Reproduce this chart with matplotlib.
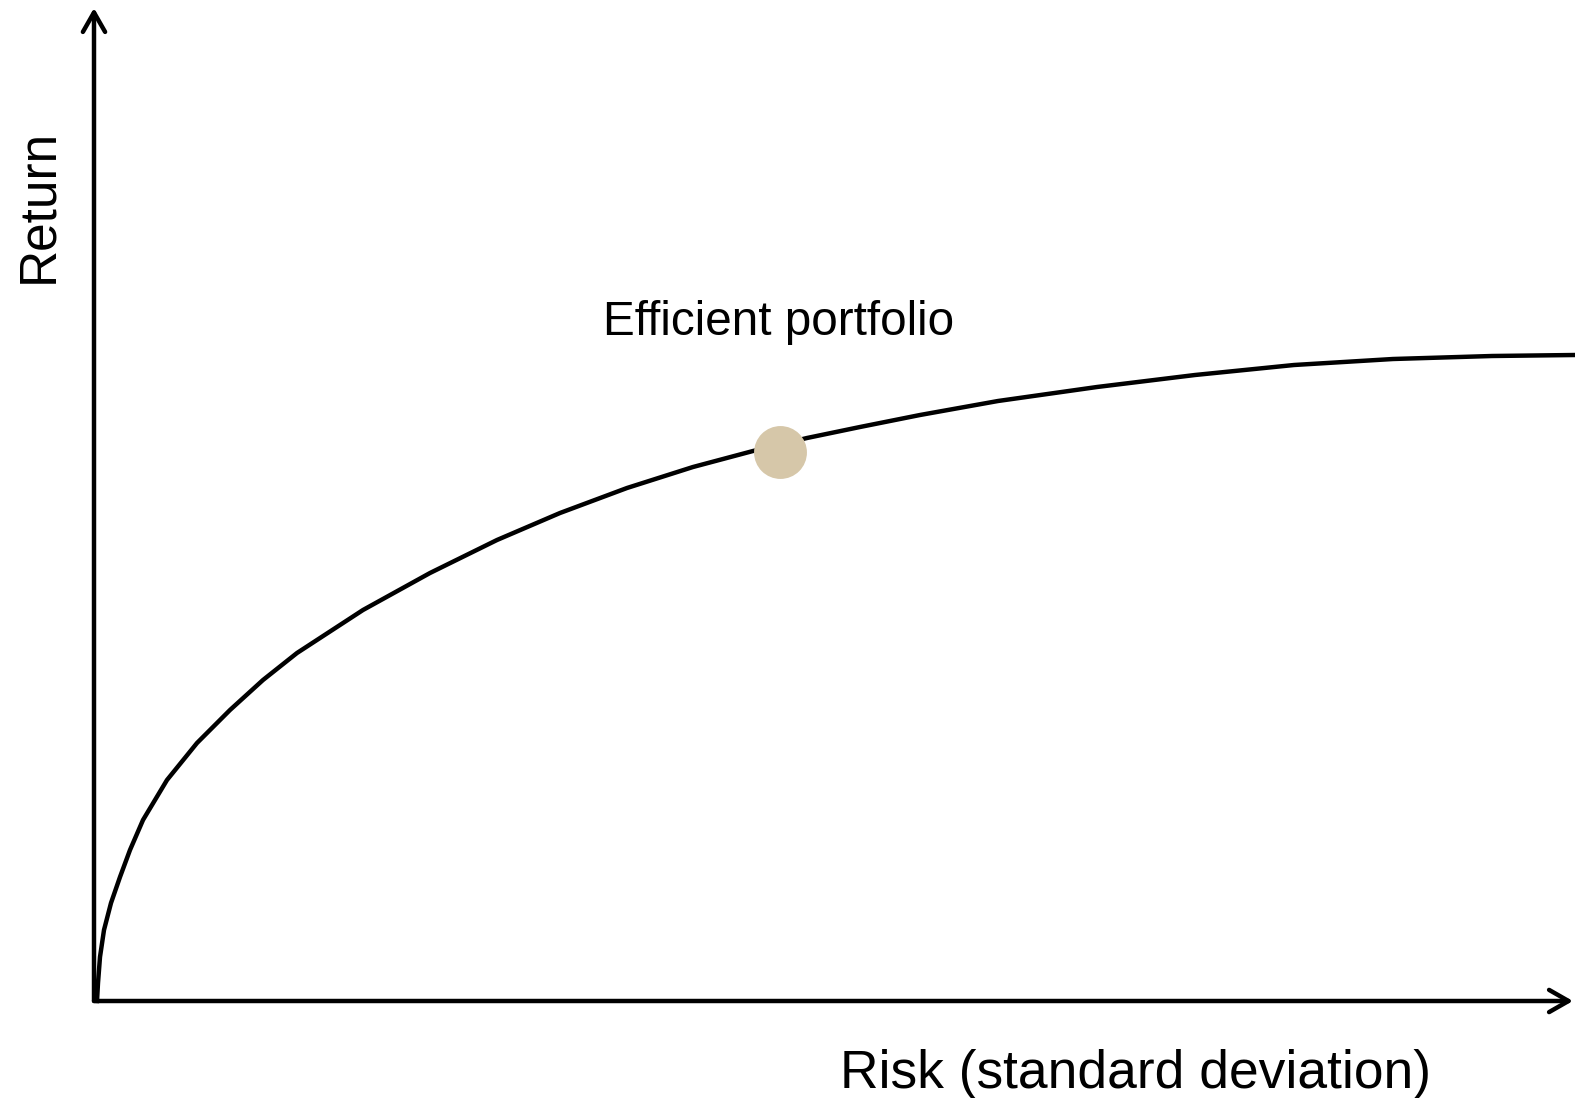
import matplotlib
matplotlib.use('Agg')
import matplotlib.pyplot as plt

plt.rcParams['font.family'] = ['Liberation Sans', 'DejaVu Sans']

# efficient frontier (origin = axis corner, arbitrary units)
risk = [3, 4, 6, 10, 17, 26, 36, 49, 73, 103, 136, 169, 203, 269, 336,
        403, 466, 533, 599, 659, 713, 766, 826, 904, 1003, 1101, 1200,
        1299, 1398, 1481]
ret = [0, 18, 44, 71, 98, 124, 151, 181, 221, 258, 291, 321, 348, 391, 428,
       461, 488, 513, 534, 550, 563, 574, 586, 600, 614, 626, 636,
       642, 645, 646]

# the marked portfolio
pt_risk = [686]
pt_ret = [549]

x_label = 'Risk (standard deviation)'
y_label = 'Return'
pt_label = 'Efficient portfolio'

fig = plt.figure(figsize=(15.75, 10.98), dpi=100)
ax = fig.add_axes([0, 0, 1, 1])
ax.set_xlim(-94, 1481)
ax.set_ylim(-97, 1001)
ax.axis('off')

lw = 3.2
arrow = dict(arrowstyle='->,head_length=0.7,head_width=0.4', lw=lw, color='black',
             shrinkA=0, shrinkB=0, mutation_scale=20)
ax.annotate('', xy=(0, 993), xytext=(0, 0), arrowprops=arrow)
ax.annotate('', xy=(1479, 0), xytext=(0, 0), arrowprops=arrow)

ax.plot(risk, ret, color='black', lw=lw, solid_joinstyle='round', zorder=2)
ax.scatter(pt_risk, pt_ret, s=1450, color='#d6c7a9', zorder=3, linewidths=0)

ax.text(509, 666, pt_label, fontsize=34.3, ha='left', va='baseline')
ax.text(746, -87, x_label, fontsize=38.4, ha='left', va='baseline')
ax.text(-55, 795, y_label, fontsize=37, rotation=90, ha='center', va='center')

fig.savefig('out.png', dpi=100)
